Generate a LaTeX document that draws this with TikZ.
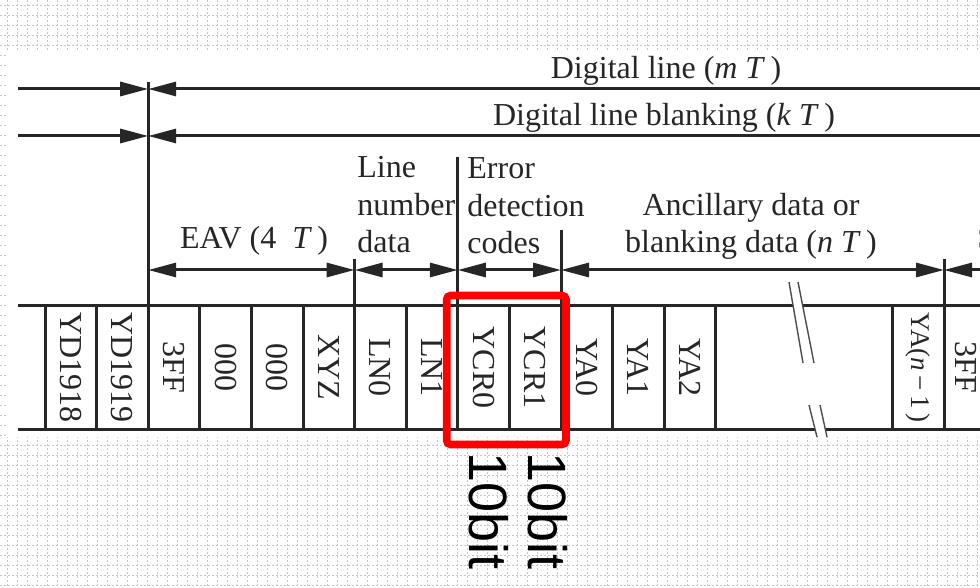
\documentclass[tikz,border=0pt]{standalone}
\usepackage{fontspec}
\setmainfont{Liberation Serif}
\newfontfamily\bitsans{Liberation Sans}
\usetikzlibrary{arrows.meta, positioning}

\begin{document}
\begin{tikzpicture}[
  x=0.5pt,
  y=-0.5pt,
  >={Triangle[length=14pt, width=7pt]},
% 1. Thick dark rule lines (timeline, ticks, table)
  rule/.style={
    draw=black!85,
    line width=1.5pt
  },
% 2. Serif labels
  label_font/.style={
    font=\fontsize{16}{18.75}\selectfont,
    text=black!85,
    inner sep=0pt
  },
% 3. Word text inside the cells, read top to bottom
  cell_text/.style={
    label_font,
    rotate=-90
  },
% 4. Thin double strokes of the break
  break_mark/.style={
    draw=black!70,
    line width=0.7pt
  },
% 5. Dotted slide grid behind the picture
  grid_dot/.style={
    draw=black!22,
    line width=0.45pt,
    dash pattern=on 1pt off 1pt
  },
% 6. Red highlight frame and its labels
  mark_box/.style={
    draw=red,
    line width=3.8pt,
    rounded corners=2pt
  },
  bit_font/.style={
    font=\bitsans\fontsize{27}{30}\selectfont,
    rotate=-90,
    inner sep=0pt
  }
]

  % Page (pixel grid, y runs down)
  \useasboundingbox (0,0) rectangle (980,588);
  \clip (0,0) rectangle (980,588);
  \foreach \gx in {7,17,...,977} \draw[grid_dot] (\gx,0) -- (\gx,588);
  \foreach \gy in {5,15,...,585} \draw[grid_dot] (0,\gy) -- (980,\gy);
  \fill[white] (7,50) rectangle (980,437);

  % Tick positions on the three timelines
  \coordinate (dl_w) at (18,89);
  \coordinate (dl_m) at (148.2,89);
  \coordinate (dl_e) at (990,89);
  \coordinate (blk_w) at (18,136);
  \coordinate (blk_m) at (148.2,136);
  \coordinate (blk_e) at (990,136);
  \coordinate (eav_w) at (148.2,270);
  \coordinate (eav_e) at (354.6,270);
  \coordinate (lnd_e) at (457.8,270);
  \coordinate (edc_e) at (561,270);
  \coordinate (anc_e) at (944,270);
  \coordinate (sav_e) at (990,270);

  % Vertical ticks
  \draw[rule] (148.2,82) -- (148.2,429);
  \draw[rule] (354.6,259) -- (354.6,306);
  \draw[rule] (457.8,157) -- (457.8,306);
  \draw[rule] (561,230) -- (561,306);
  \draw[rule] (944,259) -- (944,306);

  % Dimension arrows
  \draw[rule, ->] (dl_w) -- (dl_m);
  \draw[rule, ->] (dl_e) -- (dl_m);
  \draw[rule, ->] (blk_w) -- (blk_m);
  \draw[rule, ->] (blk_e) -- (blk_m);
  \draw[rule, <->] (eav_w) -- (eav_e);
  \draw[rule, <->] (eav_e) -- (lnd_e);
  \draw[rule, <->] (lnd_e) -- (edc_e);
  \draw[rule, <->] (edc_e) -- (anc_e);
  \draw[rule, ->] (sav_e) -- (anc_e);

  % Labels above the word row (base = last line)
  \node[label_font, anchor=base] (dline) at (666,79) {Digital line (\textit{m}\ \textit{T}\,)};
  \node[label_font, anchor=base] (dblank) at (664,126) {Digital line blanking (\textit{k}\ \textit{T}\,)};
  \node[label_font, anchor=base] (eav) at (254,249) {EAV (4\ \ \textit{T}\,)};
  \node[label_font, anchor=base west, align=left] (lnd) at (357,253) {Line\\number\\data};
  \node[label_font, anchor=base west, align=left] (edc) at (467,254) {Error\\detection\\codes};
  \node[label_font, anchor=base, align=center] (anc) at (751,253) {Ancillary data or\\blanking data (\textit{n}\ \textit{T}\,)};
  \node[label_font, anchor=base west] (sav) at (977,249) {SAV (4\ \ \textit{T}\,)};

  % Word row: rules, cell borders and the break
  \draw[rule] (18,306) -- (793,306) (803,306) -- (990,306);
  \draw[rule] (18,429) -- (815,429) (825,429) -- (990,429);
  \foreach \cx in {45,96.6,199.8,251.4,303,354.6,406.2,457.8,509.4,561,612.6,664.2,715.8,892.4,944}
    \draw[rule] (\cx,306) -- (\cx,429);
  \draw[break_mark] (789,282) -- (803,363) (798,282) -- (814,363);
  \draw[break_mark] (809,405) -- (817,437) (820,405) -- (827,437);

  % Words
  \node[cell_text] (yd1918) at (70.8,367.5) {YD1918};
  \node[cell_text] (yd1919) at (122.4,367.5) {YD1919};
  \node[cell_text] (eav_3ff) at (174,367.5) {3FF};
  \node[cell_text] (eav_000a) at (225.6,367.5) {000};
  \node[cell_text] (eav_000b) at (277.2,367.5) {000};
  \node[cell_text] (eav_xyz) at (328.8,367.5) {XYZ};
  \node[cell_text] (ln0) at (380.4,367.5) {LN0};
  \node[cell_text] (ln1) at (432,367.5) {LN1};
  \node[cell_text] (ycr0) at (483.6,367.5) {YCR0};
  \node[cell_text] (ycr1) at (535.2,367.5) {YCR1};
  \node[cell_text] (ya0) at (586.8,367.5) {YA0};
  \node[cell_text] (ya1) at (638.4,367.5) {YA1};
  \node[cell_text] (ya2) at (690,367.5) {YA2};
  \node[cell_text, font=\fontsize{13.5}{16}\selectfont] (yan1) at (918.2,367.5) {YA(\textit{n}\,−\,1\,)};
  \node[cell_text] (sav_3ff) at (966,367.5) {3FF};

  % Highlighted CRC words
  \draw[mark_box] (446.7,295.5) rectangle (566,444.5);
  \node[bit_font, anchor=west] (bit_ycr0) at (488.5,452) {10bit};
  \node[bit_font, anchor=west] (bit_ycr1) at (548,452) {10bit};

\end{tikzpicture}
\end{document}
